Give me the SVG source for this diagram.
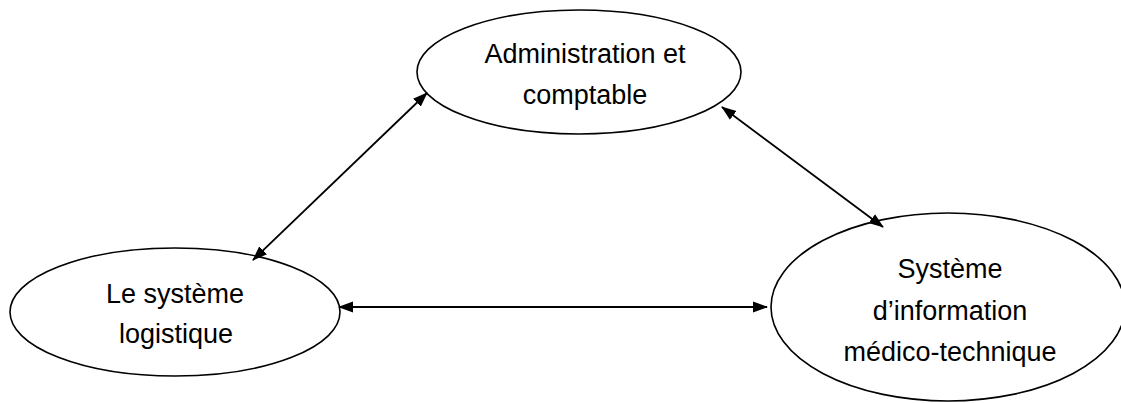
<svg xmlns="http://www.w3.org/2000/svg" width="1121" height="403" viewBox="0 0 1121 403">
<style>
.node ellipse{fill:#fff;stroke:#000;stroke-width:1.6}
.node text{font-family:"Liberation Sans",Arial,sans-serif;font-size:27px;fill:#000;text-anchor:middle}
.edge{stroke:#000;stroke-width:1.8;fill:none;marker-start:url(#ah);marker-end:url(#ah)}
</style>
<defs>
<marker id="ah" markerUnits="userSpaceOnUse" markerWidth="15" markerHeight="12" refX="14" refY="5.5" orient="auto-start-reverse" viewBox="0 0 15 11">
<path d="M0,0 L15,5.5 L0,11 z" fill="#000"/>
</marker>
</defs>
<rect width="1121" height="403" fill="#fff"/>
<g id="admin" class="node">
<ellipse cx="579" cy="72" rx="162" ry="62"/>
<text x="585" y="63">Administration et</text>
<text x="585" y="104">comptable</text>
</g>
<g id="logistique" class="node">
<ellipse cx="175" cy="312" rx="165" ry="64"/>
<text x="175" y="303">Le système</text>
<text x="176" y="343">logistique</text>
</g>
<g id="medico" class="node">
<ellipse cx="948" cy="307" rx="177" ry="94"/>
<text x="950" y="278">Système</text>
<text x="950" y="320">d’information</text>
<text x="950" y="361">médico-technique</text>
</g>
<g id="connectors">
<line class="edge" x1="427" y1="93" x2="253" y2="260"/>
<line class="edge" x1="722" y1="107" x2="883" y2="227"/>
<line class="edge" x1="339" y1="307" x2="767" y2="307"/>
</g>
</svg>
